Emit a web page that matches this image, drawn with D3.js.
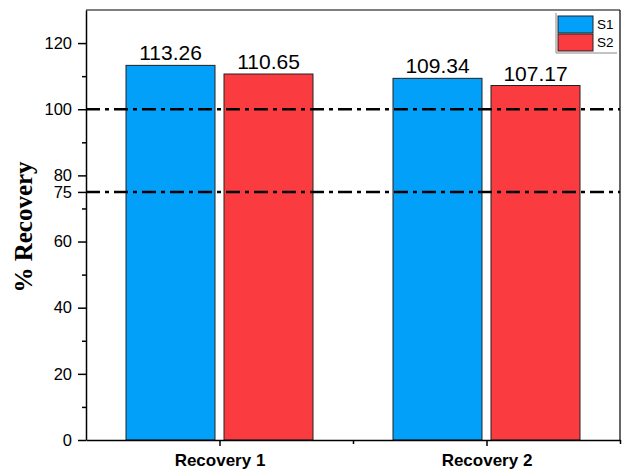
<!DOCTYPE html>
<html><head><meta charset="utf-8">
<script src="https://cdn.jsdelivr.net/npm/d3@7"></script>
<style>body{margin:0;background:#fff}svg{display:block}</style>
</head><body>
<script>
const categories = ["Recovery 1", "Recovery 2"];
const seriesNames = ["S1", "S2"];
const s1 = [113.26, 109.34];
const s2 = [110.65, 107.17];
const refLines = [100, 75];
const yTicks = [0, 20, 40, 60, 75, 80, 100, 120];
const colors = ["#03a0fa", "#fa3b3f"];

const W = 625, H = 473;
const m = {left: 86, right: 5, top: 10, bottom: 33};
const svg = d3.select("body").append("svg").attr("width", W).attr("height", H);
const iw = W - m.left - m.right, ih = H - m.top - m.bottom;
const g = svg.append("g").attr("transform", `translate(${m.left},${m.top})`);

const x = d3.scaleLinear().domain([0.5, 2.5]).range([0, iw]);
const y = d3.scaleLinear().domain([0, 130]).range([ih, 0]);
const barW = 89, gap = 9;
const sans = "Liberation Sans, Arial, sans-serif";

const series = [s1, s2];
series.forEach((vals, si) => {
  g.selectAll(null).data(vals).enter().append("rect")
    .attr("x", (d, i) => x(i + 1) + (si === 0 ? -gap/2 - barW : gap/2))
    .attr("y", d => y(d)).attr("width", barW).attr("height", d => ih - y(d))
    .attr("fill", colors[si]).attr("stroke", "#222").attr("stroke-width", 1);
  g.selectAll(null).data(vals).enter().append("text")
    .attr("x", (d, i) => x(i + 1) + (si === 0 ? -gap/2 - barW/2 : gap/2 + barW/2))
    .attr("y", d => y(d) - 5).attr("text-anchor", "middle")
    .attr("font-family", sans).attr("font-size", 21)
    .text(d => d.toFixed(2));
});

refLines.forEach(v => {
  g.append("line").attr("x1", 0).attr("x2", iw).attr("y1", y(v)).attr("y2", y(v))
    .attr("stroke", "#000").attr("stroke-width", 2.5).attr("stroke-dasharray", "14,5,4,5");
});

// frame
g.append("line").attr("x1", 0).attr("x2", iw).attr("y1", 0).attr("y2", 0).attr("stroke", "#000").attr("stroke-width", 1.2);
g.append("line").attr("x1", iw).attr("x2", iw).attr("y1", 0).attr("y2", ih).attr("stroke", "#000").attr("stroke-width", 1.2);

// y axis
const ya = g.append("g").call(d3.axisLeft(y).tickValues(yTicks).tickSize(8).tickPadding(6).tickSizeOuter(0).tickFormat(d3.format("d")));
ya.selectAll("text").attr("font-family", sans).attr("font-size", 16.5).attr("fill", "#000");
ya.select(".domain").attr("stroke-width", 1.5);
ya.selectAll(".tick line").attr("stroke-width", 1.5);
g.append("g").call(d3.axisLeft(y).tickValues([10, 30, 50, 70, 90, 110]).tickSize(4).tickFormat("").tickSizeOuter(0))
  .call(s => s.select(".domain").remove()).selectAll("line").attr("stroke-width", 1.5);

// x axis
const xa = g.append("g").attr("transform", `translate(0,${ih})`)
  .call(d3.axisBottom(x).tickValues([1, 2]).tickSize(6).tickSizeOuter(0).tickFormat((d, i) => categories[i]));
xa.selectAll("text").attr("font-family", sans).attr("font-size", 17).attr("font-weight", "bold").attr("fill", "#000").attr("y", 14);
xa.select(".domain").attr("stroke-width", 1.5);
xa.selectAll(".tick line").attr("stroke-width", 1.5);
g.append("g").attr("transform", `translate(0,${ih})`)
  .call(d3.axisBottom(x).tickValues([1.5, 2.5]).tickSize(4).tickFormat("").tickSizeOuter(0))
  .call(s => s.select(".domain").remove()).selectAll("line").attr("stroke-width", 1.5);

// y label
svg.append("text").attr("transform", `translate(32,227) rotate(-90)`)
  .attr("text-anchor", "middle").attr("font-family", "Liberation Serif, Times New Roman, serif")
  .attr("font-weight", "bold").attr("font-size", 25).text("% Recovery");

// legend
const lg = svg.append("g").attr("transform", "translate(556,13)");
lg.append("line").attr("x1", 0).attr("x2", 0).attr("y1", 0).attr("y2", 40).attr("stroke", "#888").attr("stroke-width", 1);
lg.append("line").attr("x1", 0).attr("x2", 61).attr("y1", 40).attr("y2", 40).attr("stroke", "#888").attr("stroke-width", 1);
seriesNames.forEach((n, i) => {
  lg.append("rect").attr("x", 2).attr("y", 3 + i * 18).attr("width", 35).attr("height", 17)
    .attr("fill", colors[i]).attr("stroke", "#222").attr("stroke-width", 1);
  lg.append("text").attr("x", 41).attr("y", 16 + i * 18).attr("font-family", sans)
    .attr("font-size", 13.5).text(n);
});
</script>
</body></html>
